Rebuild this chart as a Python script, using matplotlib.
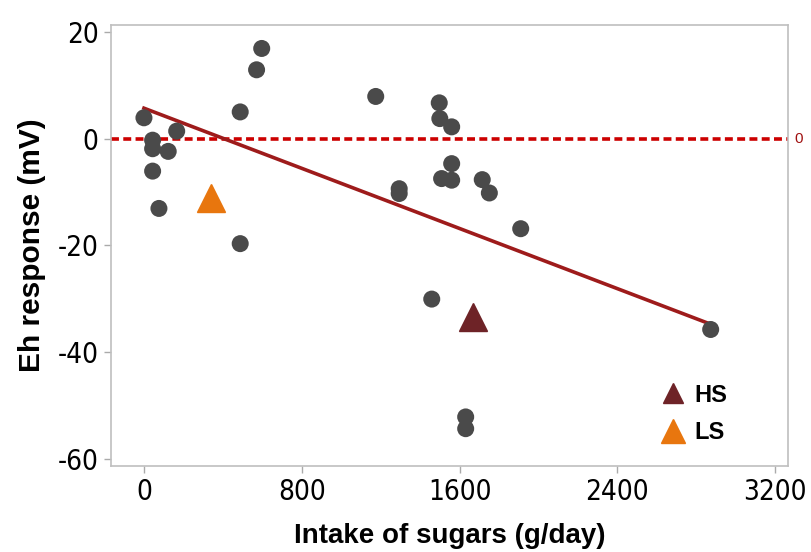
import matplotlib.pyplot as plt
from matplotlib import font_manager
from matplotlib.lines import Line2D

# gray dots: individual subjects
sugar_intake = [0, 44, 44, 44, 76, 123, 166, 488, 488, 571, 597, 1175, 1294, 1294,
                1497, 1500, 1560, 1560, 1509, 1560, 1715, 1751, 1910, 1459, 1631, 1631, 2873]
eh_response = [3.9, -0.3, -1.9, -6.1, -13.1, -2.4, 1.4, 5.0, -19.7, 12.9, 16.9, 7.9, -9.4, -10.3,
               6.7, 3.75, 2.2, -4.7, -7.5, -7.8, -7.7, -10.2, -16.9, -30.1, -52.2, -54.4, -35.8]

# group means
group_names = ["HS", "LS"]
group_intake = [1666, 338]
group_eh = [-33.5, -11.1]
group_colors = ["#6e2327", "#e8760e"]

# regression line
fit_intercept = 5.7
fit_slope = -0.0141
fit_range = [0, 2873]

x_ticks = [0, 800, 1600, 2400, 3200]
y_ticks = [20, 0, -20, -40, -60]

LABEL_FONT = ["Liberation Sans", "DejaVu Sans"]
names = {f.name for f in font_manager.fontManager.ttflist}
if "Liberation Sans Narrow" in names:
    tick_font = dict(family="Liberation Sans Narrow")
else:
    tick_font = dict(family="DejaVu Sans", stretch="condensed")

fig = plt.figure(figsize=(8.11, 5.52), dpi=100)
ax = fig.add_axes([111 / 811, 1 - 466 / 552, 677 / 811, 441 / 552])

ax.axhline(0, color="#cc0000", linestyle=(0, (2.2, 1.2)), linewidth=2.6, zorder=1)
ax.text(1.01, 0, "0", transform=ax.get_yaxis_transform(), color="#a01010",
        fontsize=11, va="center", ha="left", family=LABEL_FONT)

ax.scatter(sugar_intake, eh_response, s=150, color="#4a4a4a", edgecolors="none", zorder=3)

fit_y = [fit_intercept + fit_slope * x for x in fit_range]
ax.plot(fit_range, fit_y, color="#9e1b1b", linewidth=2.6, zorder=2)

for name, gx, gy, col in zip(group_names, group_intake, group_eh, group_colors):
    ax.plot(gx, gy, marker="^", markersize=20, color=col, linestyle="none", zorder=4)

handles = [Line2D([], [], marker="^", markersize=ms, color=c, linestyle="none")
           for c, ms in zip(group_colors, [14, 17])]
ax.legend(handles, group_names, loc="lower right", bbox_to_anchor=(0.942, 0.002),
          frameon=False, handletextpad=0.1, labelspacing=0.6, handlelength=1.6,
          prop={"family": LABEL_FONT, "weight": "bold", "size": 17})

ax.set_xlim(-167, 3265)
ax.set_ylim(-61.4, 21.3)
ax.set_xticks(x_ticks)
ax.set_yticks(y_ticks)
ax.set_xticklabels([str(t) for t in x_ticks], fontsize=20, **tick_font)
ax.set_yticklabels([str(t) for t in y_ticks], fontsize=20, **tick_font)

for spine in ax.spines.values():
    spine.set_color("#bfbfbf")
    spine.set_linewidth(1.2)
ax.tick_params(direction="out", length=5, width=1, color="#aaaaaa", pad=4)

ax.set_xlabel("Intake of sugars (g/day)", family=LABEL_FONT, weight="bold",
              fontsize=20, labelpad=12)
ax.set_ylabel("Eh response (mV)", family=LABEL_FONT, weight="bold",
              fontsize=21.5, labelpad=8)

fig.savefig("out.png", dpi=100)
